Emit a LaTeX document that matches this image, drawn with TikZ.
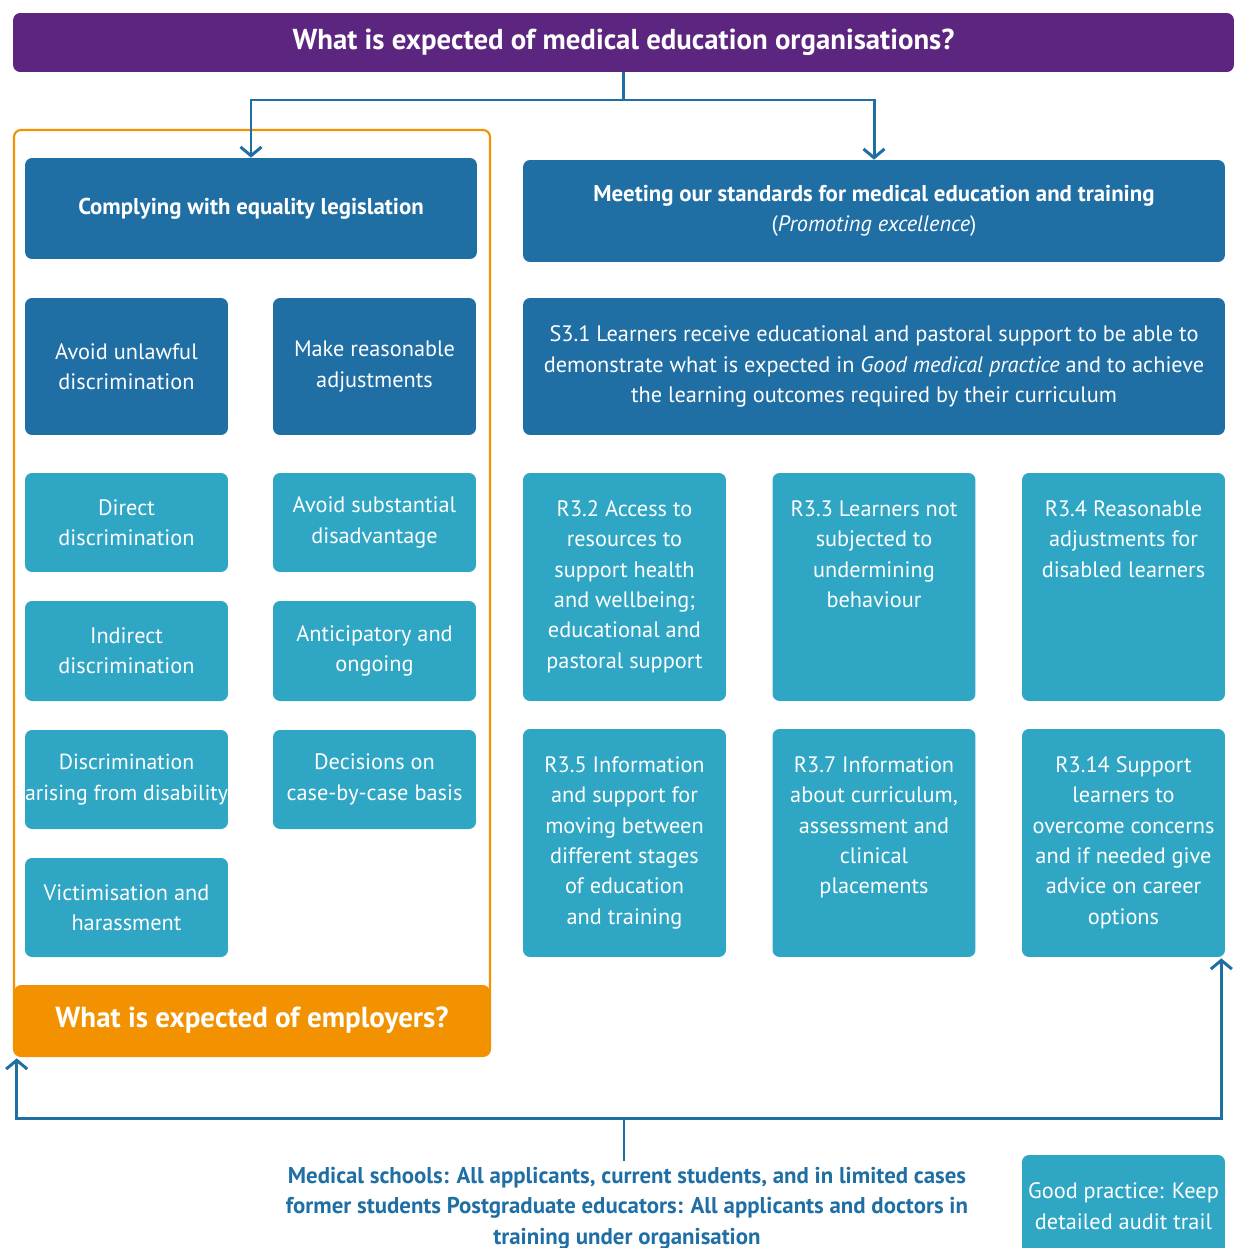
\documentclass[tikz,border=0pt]{standalone}
\usepackage{fontspec}
\setmainfont{PT Sans}
\usepackage{tikz}
\usetikzlibrary{arrows.meta}
\definecolor{gmcpurple}{RGB}{92,38,128}
\definecolor{gmcdark}{RGB}{31,111,165}
\definecolor{gmclight}{RGB}{46,166,196}
\definecolor{gmcorange}{RGB}{242,146,0}
\tikzstyle{darkbox} = [rectangle, rounded corners = 4pt, fill = gmcdark, text = white, align = center, inner sep = 0pt, font = \fontsize{12.7}{17.3}\selectfont]
\tikzstyle{lightbox} = [rectangle, rounded corners = 4pt, fill = gmclight, text = white, align = center, inner sep = 0pt, font = \fontsize{12.7}{17.3}\selectfont, minimum width = 4.06cm]
\tikzstyle{conn} = [draw = gmcdark, line width = 1.7pt, -{Straight Barb[length = 5pt, width = 12pt, line width = 1.7pt]}]
\newcommand{\toptext}[1]{\parbox[t][3.46cm][t]{4.06cm}{\centering #1}}

\begin{document}
\begin{tikzpicture}[x = 0.02cm, y = -0.02cm]
            \useasboundingbox (0, 0) rectangle (1234, 1248);
            % header
            \node (hdr) at (623.5, 42.5) [rectangle, rounded corners = 4pt, fill = gmcpurple, text = white, minimum width = 24.42cm, minimum height = 1.18cm, font = \fontsize{16.4}{19}\selectfont\bfseries] {What is expected of medical education organisations?};
            % employers frame
            \draw [gmcorange, line width = 1.2pt, rounded corners = 4pt] (14, 130) rectangle (490, 1056);
            \node (emp) at (252, 1020.5) [rectangle, rounded corners = 4pt, fill = gmcorange, text = white, minimum width = 9.52cm, minimum height = 1.42cm, font = \fontsize{16.5}{19}\selectfont\bfseries] {What is expected of employers?};
            % legislation side
            \node (legis) at (251, 208.5) [darkbox, minimum width = 9.04cm, minimum height = 2.02cm, font = \fontsize{13}{17.3}\selectfont\bfseries] {Complying with equality legislation};
            \node (unlawful) at (126.5, 366.5) [darkbox, minimum width = 4.06cm, minimum height = 2.74cm] {Avoid unlawful\\discrimination};
            \node (adjust) at (374.5, 366.5) [darkbox, minimum width = 4.06cm, minimum height = 2.74cm] {Make reasonable\\adjustments};
            \node (direct) at (126.5, 522.5) [lightbox, minimum height = 1.98cm] {Direct\\discrimination};
            \node (substantial) at (374.5, 522.5) [lightbox, minimum height = 1.98cm] {Avoid substantial\\disadvantage};
            \node (indirect) at (126.5, 651) [lightbox, minimum height = 2cm] {Indirect\\discrimination};
            \node (anticip) at (374.5, 651) [lightbox, minimum height = 2cm] {Anticipatory and\\ongoing};
            \node (arising) at (126.5, 779.5) [lightbox, minimum height = 1.98cm, font = \fontsize{12.4}{17.3}\selectfont] {Discrimination\\arising from disability};
            \node (casebycase) at (374.5, 779.5) [lightbox, minimum height = 1.98cm] {Decisions on\\case-by-case basis};
            \node (victim) at (126.5, 907.5) [lightbox, minimum height = 1.98cm] {Victimisation and\\harassment};
            % standards side
            \node (stds) at (874, 211) [darkbox, minimum width = 14.04cm, minimum height = 2.04cm] {\textbf{\fontsize{13}{17.3}\selectfont Meeting our standards for medical education and training}\\(\textit{Promoting excellence})};
            \node (s31) at (874, 366.5) [darkbox, minimum width = 14.04cm, minimum height = 2.74cm] {S3.1 Learners receive educational and pastoral support to be able to\\demonstrate what is expected in \textit{Good medical practice} and to achieve\\the learning outcomes required by their curriculum};
            \node (r32) at (624.5, 587) [lightbox, minimum height = 4.56cm] {\toptext{R3.2 Access to\\resources to\\support health\\and wellbeing;\\educational and\\pastoral support}};
            \node (r33) at (874, 587) [lightbox, minimum height = 4.56cm] {\toptext{R3.3 Learners not\\subjected to\\undermining\\behaviour}};
            \node (r34) at (1123.5, 587) [lightbox, minimum height = 4.56cm] {\toptext{R3.4 Reasonable\\adjustments for\\disabled learners}};
            \node (r35) at (624.5, 843) [lightbox, minimum height = 4.56cm] {\toptext{R3.5 Information\\and support for\\moving between\\different stages\\of education\\and training}};
            \node (r37) at (874, 843) [lightbox, minimum height = 4.56cm] {\toptext{R3.7 Information\\about curriculum,\\assessment and\\clinical\\placements}};
            \node (r314) at (1123.5, 843) [lightbox, minimum height = 4.56cm] {\toptext{R3.14 Support\\learners to\\overcome concerns\\and if needed give\\advice on career\\options}};
            % who is covered
            \node (scope) at (627, 1208) [text = gmcdark, align = center, font = \fontsize{13}{17.3}\selectfont\bfseries] {Medical schools: All applicants, current students, and in limited cases\\former students Postgraduate educators: All applicants and doctors in\\training under organisation};
            \node (good) at (1123.5, 1206) [lightbox, minimum height = 2.04cm] {Good practice: Keep\\detailed audit trail};
            % connectors
            \coordinate (split) at (623.5, 100);
            \coordinate (join) at (624, 1118);
            \coordinate (empin) at ([xshift = 0.06cm, yshift = -0.04cm] emp.south west);
            \coordinate (r314in) at ([xshift = -0.08cm, yshift = -0.02cm] r314.south east);
            \draw [conn, -] (hdr.south) -- (split);
            \draw [conn] (split) -| (legis.north);
            \draw [conn] (split) -| (stds.north);
            \draw [conn, {Straight Barb[length = 5pt, width = 12pt, line width = 1.7pt]}-{Straight Barb[length = 5pt, width = 12pt, line width = 1.7pt]}] (empin) |- (join) -| (r314in);
            \draw [conn, -] (scope.north -| join) -- (join);
        \end{tikzpicture}
\end{document}
